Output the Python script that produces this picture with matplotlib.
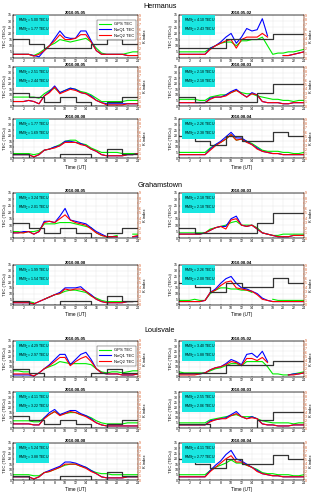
import numpy as np
import matplotlib
matplotlib.use('Agg')
import matplotlib.pyplot as plt
from matplotlib.patches import Rectangle

plt.rcParams['font.family'] = 'Liberation Sans'

W, H = 320, 499
nan = np.nan
hours = np.arange(25)
k_edges = np.arange(0, 25, 3)

# ---- Hermanus ----
h0505_gps = [3, 3, 3, 3, 2, 4, 7, 10, 12, 15, 14, 13, 14, 15, 16, 13, 8, 4, 3, 3, 3, 3, 4, 5, 5]
h0505_nq1 = [3, 3, 3, 3, 2, 1, 6, 10, 16, 22, 17, 16, 16, 22, 22, 14, 6, 3, 3, 3, 3, 3, 2, 2, 2]
h0505_nq2 = [3, 3, 3, 3, 1.5, 3, 6, 10, 14, 19, 15, 15, 16, 19, 19, 13, 6, 3, 3, 3, 3, 3, 2, 2, 2]
h0505_k = [4, 3, 2, 2, 2, 3, 4, 3]

h0502_gps = [5, 5, 5, 5, 5, 5, 8, 10, 12, 13, 13, 10, 14, 14, 15, 15, 17, 10, 3, 4, 4, 5, 5, 6, 7]
h0502_nq1 = [3, 3, 3, 3, 3, 3, 8, 10, 13, 17, 20, 12, 17, 24, 22, 23, 32, 18, nan, nan, 2, 2, 3, 4, 5]
h0502_nq2 = [3, 3, 3, 3, 3, 3, 7, 10, 12, 14, 15, 8, 15, 17, 17, 17, 20, 17, nan, nan, 2, 2, 3, 4, 5]
h0502_k = [2, 2, 2, 4, 4, 4, 5, 5]

h0805_gps = [8, 8, 8, 8, 8, 7, 11, 14, 16, 12, 14, 16, 15, 13, 12, 10, 7, 4, 4, 4, 4, 4, 5, 5, 5]
h0805_nq1 = [4, 4, 4, 5, 4, 2, 9, 13, 18, 12, 14, 16, 15, 12, 11, 9, 5, 3, 2, 2, 2, 2, 2, 2, 2]
h0805_nq2 = [4, 4, 4, 5, 4, 2, 9, 12, 17, 11, 13, 15, 14, 12, 11, 8, 5, 3, 1, 1, 1, 1, 2, 2, 2]
h0805_k = [3, 2, 1, 2, 1, 0, 1, 2]

h0803_gps = [6, 6, 6, 6, 5, 5, 8, 9, 10, 10, 12, 14, 12, 11, 11, 9, 8, 7, 6, 6, 5, 5, 4, 5, 5]
h0803_nq1 = [3, 3, 3, 3, 3, 3, 7, 8, 8, 10, 13, 15, 11, 8, 12, 10, 4, 3, 3, 3, 2, 2, 3, 3, 3]
h0803_nq2 = [3, 3, 3, 3, 3, 3, 6, 8, 8, 9, 12, 14, 11, 8, 11, 10, 4, 3, 3, 3, 2, 2, 3, 3, 3]
h0803_k = [2, 1, 1, 1, 1, 3, 5, 5]

h0808_gps = [4, 4, 4, 4, 3, 4, 7, 8, 10, 12, 15, 16, 16, 13, 12, 9, 7, 5, 5, 5, 5, 4, 4, 4, 4]
h0808_nq1 = [3, 3, 3, 3, 1, 3, 7, 8, 10, 11, 15, 15, 14, 13, 11, 8, 6, 3, 2, 2, 2, 2, 3, 3, 4]
h0808_nq2 = [3, 3, 3, 3, 1, 3, 7, 8, 9, 11, 14, 14, 14, 12, 11, 8, 6, 3, 2, 2, 2, 2, 3, 3, 4]
h0808_k = [1, 0, 0, 1, 1, 0, 2, 1]

h0804_gps = [5, 5, 5, 5, 5, 5, 9, 12, 14, 17, 21, 16, 17, 15, 13, 10, 7, 6, 6, 6, 5, 5, 4, 4, 5]
h0804_nq1 = [3, 3, 3, 3, 3, 3, 8, 12, 15, 19, 23, 18, 18, 15, 12, 9, 6, 5, 4, 4, 3, 3, 3, 3, 3]
h0804_nq2 = [3, 3, 3, 3, 3, 3, 7, 11, 14, 17, 21, 16, 17, 14, 12, 8, 6, 5, 4, 4, 3, 3, 3, 3, 3]
h0804_k = [5, 4, 3, 5, 4, 4, 6, 5]

# ---- Grahamstown ----
g0805_gps = [5, 5, 4, 5, 5, 6, 11, 11, 11, 12, 12, 12, 11, 10, 9, 8, 4, 2, 1, 1, 2, nan, nan, 3, 3]
g0805_nq1 = [4, 4, 5, 5, 3, 5, 13, 13, 12, 17, 23, 14, 13, 12, 11, 8, 5, 3, 1, 1, 1, nan, nan, 1, 1]
g0805_nq2 = [4, 4, 4, 5, 3, 5, 12, 13, 12, 15, 18, 14, 12, 11, 10, 7, 4, 2, 1, 1, 1, nan, nan, 1, 2]
g0805_k = [3, 2, 1, 2, 1, 0, 1, 2]

g0803_gps = [4, 4, 4, 4, 4, 4, 7, 8, 9, 10, 12, 13, 10, 10, 10, 8, 4, 3, 2, 2, 3, 3, 3, 3, 3]
g0803_nq1 = [3, 3, 3, 3, 3, 4, 6, 8, 9, 9, 15, 17, 10, 9, 10, 7, 4, 3, 2, 1, 1, 1, 2, 2, 2]
g0803_nq2 = [3, 3, 3, 3, 3, 4, 6, 8, 9, 7, 14, 15, 10, 9, 10, 7, 4, 3, 2, 1, 1, 1, 2, 2, 2]
g0803_k = [2, 1, 1, 1, 1, 3, 5, 5]

g0808_gps = [3, 3, 3, 3, 2, nan, 5, 7, 9, 10, 12, 13, 13, 12, 11, 8, 6, 4, 3, 3, 3, 3, 3, 3, nan]
g0808_nq1 = [2, 2, 2, 2, 1, 3, 5, 7, 9, 11, 15, 15, 15, 16, 12, 9, 5, 3, 2, 2, 2, 2, 3, 3, nan]
g0808_nq2 = [2, 2, 2, 2, 1, 3, 5, 7, 9, 10, 14, 13, 14, 14, 12, 8, 5, 3, 2, 2, 2, 2, 3, 3, nan]
g0808_k = [1, 0, 0, 1, 1, 0, 2, 1]

g0804_gps = [4, 4, 4, 5, 4, 4, 10, 13, 15, 15, 14, 14, 13, 13, 11, nan, nan, nan, 5, 4, 4, 4, 4, 4, 4]
g0804_nq1 = [3, 3, 3, 3, 3, 4, 11, 14, 19, 23, 25, 19, 15, 14, 12, 10, 6, 4, 3, 3, 3, 3, 3, 3, 3]
g0804_nq2 = [3, 3, 3, 3, 3, 4, 11, 13, 17, 20, 21, 15, 14, 13, 12, 9, 5, 4, 3, 3, 3, 3, 3, 3, 3]
g0804_k = [5, 4, 3, 5, 4, 4, 6, 5]

# ---- Louisvale ----
l0505_gps = [6, 6, 5, 5, nan, nan, 8, 10, 12, 15, 14, 13, 13, 13, 13, 12, 8, 5, 4, 5, 5, 4, 5, 6, 6]
l0505_nq1 = [2, 2, 2, 2, 1, 4, 8, 12, 17, 22, 22, 12, 17, 22, 24, 17, 8, 4, 3, 3, 3, 2, 2, 2, 3]
l0505_nq2 = [3, 3, 3, 3, 1, 4, 8, 11, 15, 19, 19, 11, 15, 18, 20, 15, 8, 4, 3, 3, 3, 2, 2, 2, 3]
l0505_k = [2, 1, 0, 0, 0, 1, 2, 1]

l0502_gps = [5, 4, 4, 4, 4, 4, 6, 8, 9, 11, 13, 13, 11, 15, 15, 15, 15, 10, 3, 3, 2, 2, 3, 4, 5]
l0502_nq1 = [3, 3, 3, 3, 3, 4, 7, 9, 10, 13, 17, 15, 12, 22, 23, 19, 25, 15, nan, nan, nan, 2, 3, 3, 4]
l0502_nq2 = [2, 2, 2, 2, 3, 4, 7, 9, 10, 12, 15, 14, 11, 18, 18, 16, 19, 14, nan, nan, nan, 2, 2, 3, 4]
l0502_k = [1, 1, 1, 3, 3, 3, 4, 4]

l0805_gps = [7, 7, 7, 7, 6, 6, 10, 13, 16, 13, 14, 15, 15, 13, 12, 10, 7, 5, 4, 4, 4, 4, 5, 5, 5]
l0805_nq1 = [4, 4, 4, 4, 3, 3, 10, 15, 18, 13, 15, 17, 17, 14, 12, 9, 5, 3, 2, 2, 2, 2, 2, 2, 2]
l0805_nq2 = [4, 4, 4, 4, 3, 3, 9, 13, 16, 12, 14, 16, 15, 13, 11, 8, 5, 3, 2, 2, 2, 2, 2, 2, 2]
l0805_k = [3, 2, 1, 2, 1, 0, 1, 2]

l0803_gps = [5, 5, 5, 5, 5, 5, 8, 9, 10, 11, 12, 13, 11, 11, 11, 9, 7, 6, 5, 5, 5, 5, 4, 5, 5]
l0803_nq1 = [3, 3, 3, 3, 3, 3, 7, 8, 9, 10, 13, 16, 11, 9, 11, 9, 4, 3, 3, 2, 2, 2, 3, 3, 3]
l0803_nq2 = [3, 3, 3, 3, 3, 3, 6, 8, 9, 9, 12, 14, 11, 9, 10, 9, 4, 3, 3, 2, 2, 2, 3, 3, 3]
l0803_k = [1, 1, 0, 0, 0, 2, 4, 4]

l0808_gps = [5, 5, 5, 5, 4, 4, 7, 8, 10, 12, 14, 15, 15, 13, 12, 9, 7, 6, 6, 5, 5, 5, 5, 5, 5]
l0808_nq1 = [3, 3, 3, 3, 1, 3, 7, 9, 11, 13, 17, 17, 16, 14, 12, 9, 6, 3, 2, 2, 2, 2, 3, 3, 3]
l0808_nq2 = [3, 3, 3, 3, 1, 3, 7, 8, 10, 12, 15, 15, 15, 13, 11, 8, 6, 3, 2, 2, 2, 2, 3, 3, 3]
l0808_k = [1, 0, 0, 1, 1, 0, 2, 1]

l0804_gps = [5, 5, 5, 5, 5, 5, 9, 12, 14, 16, 19, 16, 16, 14, 12, 10, 7, 6, 6, 5, 5, 5, 4, 4, 5]
l0804_nq1 = [3, 3, 3, 3, 3, 3, 9, 14, 18, 24, 28, 20, 18, 15, 12, 9, 6, 5, 4, 4, 3, 3, 3, 3, 3]
l0804_nq2 = [3, 3, 3, 3, 3, 3, 8, 12, 16, 20, 23, 17, 17, 14, 12, 8, 6, 5, 4, 4, 3, 3, 3, 3, 3]
l0804_k = [5, 4, 3, 5, 4, 4, 6, 5]

# (title, gps, neq1, neq2, k, rms1, rms2)
left_panels = [
    ('2010-05-05', h0505_gps, h0505_nq1, h0505_nq2, h0505_k, '5.00', '1.77'),
    ('2010-08-05', h0805_gps, h0805_nq1, h0805_nq2, h0805_k, '2.51', '2.44'),
    ('2010-08-08', h0808_gps, h0808_nq1, h0808_nq2, h0808_k, '1.77', '1.69'),
    ('2010-08-05', g0805_gps, g0805_nq1, g0805_nq2, g0805_k, '3.24', '2.01'),
    ('2010-08-08', g0808_gps, g0808_nq1, g0808_nq2, g0808_k, '1.99', '1.54'),
    ('2010-05-05', l0505_gps, l0505_nq1, l0505_nq2, l0505_k, '4.29', '2.97'),
    ('2010-08-05', l0805_gps, l0805_nq1, l0805_nq2, l0805_k, '4.11', '3.22'),
    ('2010-08-08', l0808_gps, l0808_nq1, l0808_nq2, l0808_k, '5.24', '3.88'),
]
right_panels = [
    ('2010-05-02', h0502_gps, h0502_nq1, h0502_nq2, h0502_k, '4.10', '2.43'),
    ('2010-08-03', h0803_gps, h0803_nq1, h0803_nq2, h0803_k, '2.18', '2.18'),
    ('2010-08-04', h0804_gps, h0804_nq1, h0804_nq2, h0804_k, '2.26', '2.38'),
    ('2010-08-03', g0803_gps, g0803_nq1, g0803_nq2, g0803_k, '2.18', '2.18'),
    ('2010-08-04', g0804_gps, g0804_nq1, g0804_nq2, g0804_k, '2.26', '2.08'),
    ('2010-05-02', l0502_gps, l0502_nq1, l0502_nq2, l0502_k, '3.40', '1.88'),
    ('2010-08-03', l0803_gps, l0803_nq1, l0803_nq2, l0803_k, '2.55', '2.06'),
    ('2010-08-04', l0804_gps, l0804_nq1, l0804_nq2, l0804_k, '4.11', '2.77'),
]

# pixel rows (top, bottom) of every axes row
rows = [(15, 58), (67, 106), (119, 158), (193, 238), (265, 305), (341, 377), (392, 428), (443, 480)]
legend_rows = [0, 5]
xlabel_rows = [2, 4, 7]

fig = plt.figure(figsize=(W / 100, H / 100), dpi=100)

K_COL = '#d95319'
FS = 2.5


def add_px_axes(x0, x1, y0, y1):
    return fig.add_axes([x0 / W, 1 - y1 / H, (x1 - x0) / W, (y1 - y0) / H])


def draw_panel(ax, p, legend, xlabel, h_px):
    title, gps, nq1, nq2, k, r1, r2 = p
    ax.plot(hours, gps, color='#00ee00', lw=0.8, label='GPS TEC')
    ax.plot(hours, nq1, color='#0000ff', lw=0.8, label='NeQ1 TEC')
    ax.plot(hours, nq2, color='#ff0000', lw=0.8, label='NeQ2 TEC')
    ax.set_xlim(0, 24)
    ax.set_ylim(0, 35)
    ax.set_xticks(range(0, 25, 2))
    ax.set_yticks(range(0, 36, 5))
    ax.grid(True, color='#e4e4e4', lw=0.3)
    ax.tick_params(labelsize=FS, length=1.0, width=0.3, pad=0.5, direction='in')
    ax.set_ylabel('TEC (TECu)', fontsize=3.0, labelpad=1)
    ax.set_title(title, fontsize=3.1, fontweight='bold', pad=0.6)
    for s in ax.spines.values():
        s.set_linewidth(0.3)
    if xlabel:
        ax.set_xlabel('Time (UT)', fontsize=3.4, labelpad=1.5)

    ax2 = ax.twinx()
    ax2.step(k_edges, list(k) + [k[-1]], where='post', color='#333333', lw=0.9)
    ax2.set_ylim(0, 9)
    ax2.set_yticks(range(10))
    ax2.tick_params(labelsize=FS, length=1.0, width=0.3, pad=0.5, direction='in', colors=K_COL)
    ax2.spines['right'].set_color(K_COL)
    for s in ax2.spines.values():
        s.set_linewidth(0.3)
    ax2.set_ylabel('K index', fontsize=3.0, labelpad=1.5, color='black')

    # RMS box: fixed pixel size at the top-left corner
    box_h = 20.0 / h_px
    ax2.add_patch(Rectangle((0.02, 1 - box_h - 0.01), 0.27, box_h, transform=ax2.transAxes,
                            facecolor='#19e6e1', edgecolor='none', zorder=5))
    ax2.text(0.04, 1 - 5.5 / h_px, r'RMS$_E^1$= ' + r1 + ' TECU', transform=ax2.transAxes,
             fontsize=2.5, va='center', zorder=6)
    ax2.text(0.04, 1 - 14.5 / h_px, r'RMS$_E^2$= ' + r2 + ' TECU', transform=ax2.transAxes,
             fontsize=2.5, va='center', zorder=6)
    if legend:
        h, l = ax.get_legend_handles_labels()
        leg = ax2.legend(h, l, loc='upper right', bbox_to_anchor=(1.0, 1 - 3.0 / h_px), fontsize=3.0,
                         frameon=True, fancybox=False, handlelength=3.0, borderpad=0.5,
                         labelspacing=0.4, handletextpad=0.5)
        leg.get_frame().set_linewidth(0.3)
        leg.get_frame().set_edgecolor('black')
        leg.set_zorder(7)


for i, (top, bot) in enumerate(rows):
    axl = add_px_axes(13, 138, top, bot)
    draw_panel(axl, left_panels[i], i in legend_rows, i in xlabel_rows, bot - top)
    axr = add_px_axes(179, 304, top, bot)
    draw_panel(axr, right_panels[i], False, i in xlabel_rows, bot - top)

fig.text(0.5, 1 - 7 / H, 'Hermanus', ha='center', va='center', fontsize=5.2)
fig.text(0.5, 1 - 186 / H, 'Grahamstown', ha='center', va='center', fontsize=5.2)
fig.text(0.5, 1 - 330 / H, 'Louisvale', ha='center', va='center', fontsize=5.2)

fig.savefig('out.png', dpi=100)
